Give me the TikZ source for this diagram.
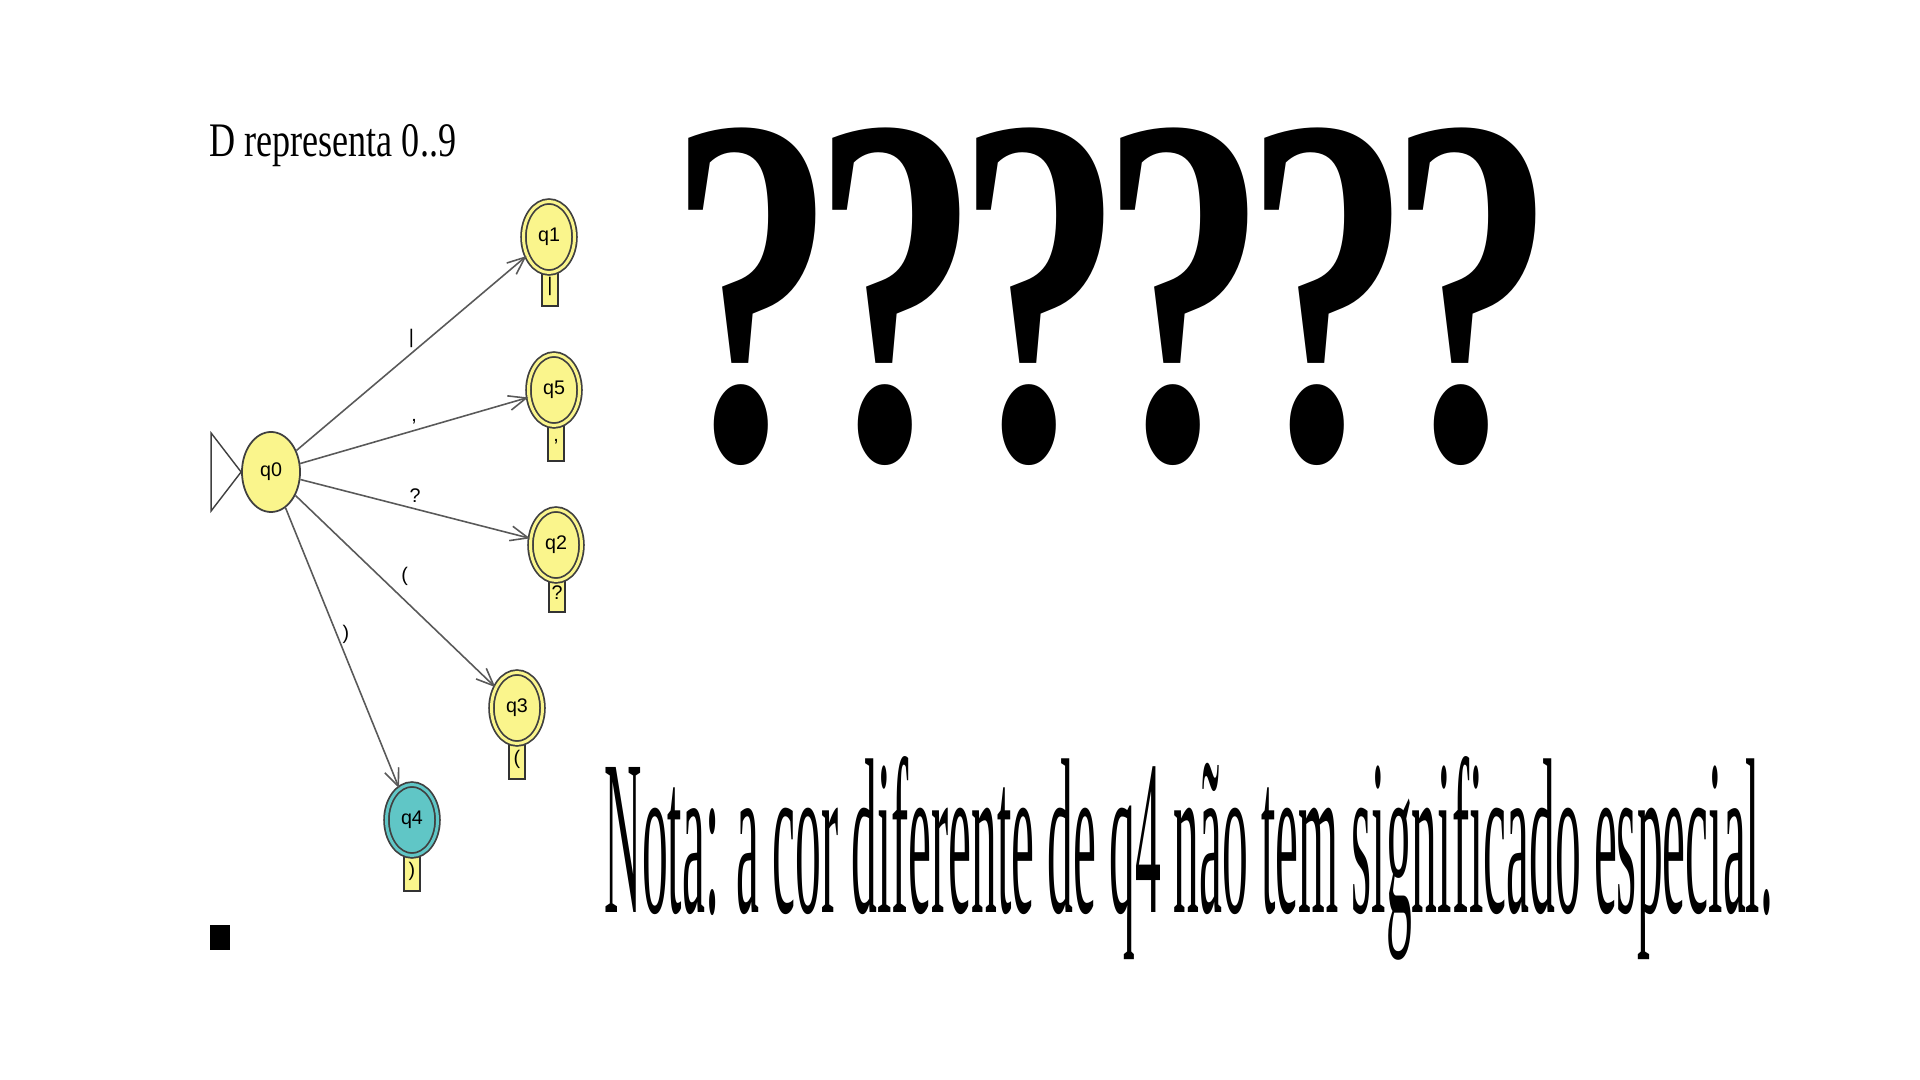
\documentclass[tikz,border=0pt]{standalone}
\usepackage{fontspec}
\setmainfont{Liberation Serif}
\newfontfamily\statefont{Liberation Sans}
\usetikzlibrary{shapes.geometric,arrows.meta}
\definecolor{stateyellow}{RGB}{250,245,140}
\definecolor{stateteal}{RGB}{96,198,198}
\begin{document}
\begin{tikzpicture}[x=0.01cm, y=-0.01cm,
            state/.style={ellipse, draw=black!75, line width=0.5pt, fill=stateyellow,
                    minimum width=0.58cm, minimum height=0.80cm, inner sep=0pt,
                    font=\statefont\fontsize{5.6}{6}\selectfont},
            final/.style={state, double=stateyellow, double distance=0.85pt,
                    minimum width=0.51cm, minimum height=0.71cm},
            tab/.style={draw=black!80, line width=0.45pt, fill=stateyellow, anchor=north,
                    minimum width=0.16cm, minimum height=0.38cm, inner sep=0pt,
                    font=\statefont\fontsize{5.6}{6}\selectfont},
            arrow/.style={draw=black!65, line width=0.45pt, -{Straight Barb[length=5pt, width=4.2pt]}},
            lbl/.style={font=\statefont\fontsize{5.6}{6}\selectfont, inner sep=1.5pt},
            qmark/.style={anchor=base, xscale=0.67, font=\bfseries\fontsize{142}{142}\selectfont}
        ]
        \useasboundingbox (0,0) rectangle (1920,1080);

        \node[anchor=base west, xscale=0.75, font=\fontsize{13.7}{14}\selectfont] (title) at (200,157) {D representa 0..9};

        \node[tab] (t1) at (550,267) {|};
        \node[tab] (t5) at (556,422) {,};
        \node[tab] (t2) at (557,573) {?};
        \node[tab] (t3) at (517,740) {(};
        \node[tab] (t4) at (412,852) {)};

        \node[state] (q0) at (271,472) {q0};
        \node[final] (q1) at (549,237) {q1};
        \node[final] (q5) at (554,390) {q5};
        \node[final] (q2) at (556,545) {q2};
        \node[final] (q3) at (517,708) {q3};
        \node[final, fill=stateteal, double=stateteal] (q4) at (412,820) {q4};

        \draw[draw=black!75, line width=0.4pt] (q0.west) -- ++(-30,-39) -- ++(0,78) -- cycle;

        \draw[arrow] (q0) -- node[lbl, above] {|} (q1);
        \draw[arrow] (q0) -- node[lbl, above] {,} (q5);
        \draw[arrow] (q0) -- node[lbl, above] {?} (q2);
        \draw[arrow] (q0) -- node[lbl, above right] {(} (q3);
        \draw[arrow] (q0) -- node[lbl, right, pos=0.45] {)} (q4);

        \foreach \i in {0,...,5}
            \node[qmark] (m\i) at ({752+144*\i},459) {?};

        \node[anchor=base west, xscale=0.233, font=\fontsize{63}{63}\selectfont] (nota) at (602,913) {Nota: a cor diferente de q4 não tem significado especial.};

        \fill (210,925) rectangle (230,950);
    \end{tikzpicture}
\end{document}
